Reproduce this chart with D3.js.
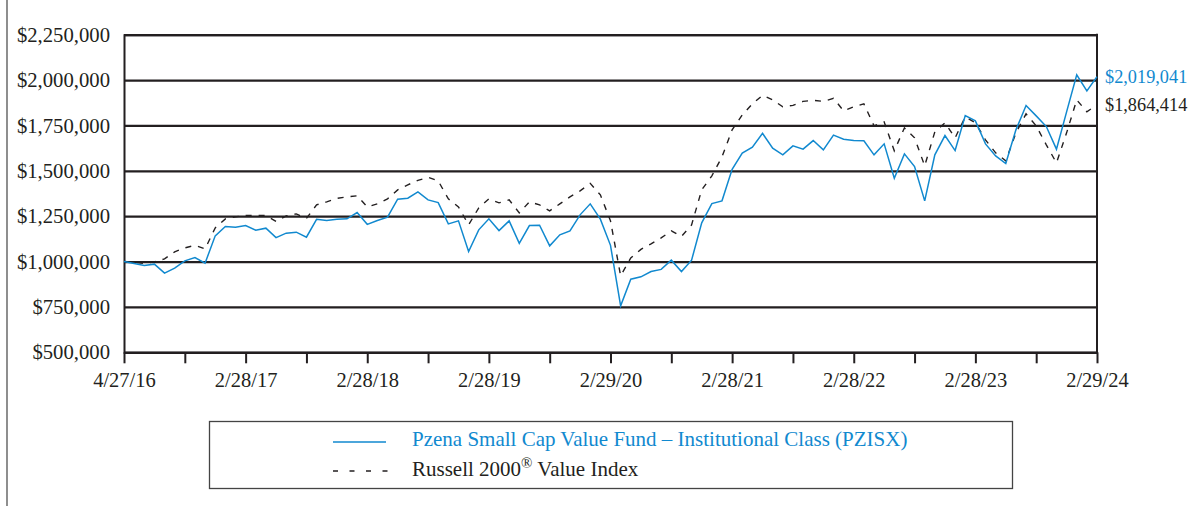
<!DOCTYPE html>
<html>
<head>
<meta charset="utf-8">
<script src="https://cdn.jsdelivr.net/npm/d3@7"></script>
<style>
  html, body { margin: 0; padding: 0; background: #fff; }
  svg { display: block; }
  text { font-family: "Liberation Serif", "DejaVu Serif", serif; }
</style>
</head>
<body>
<svg id="chart" width="1192" height="506"></svg>
<script>
// ---- Data ----
const tickLabels = ["4/27/16", "2/28/17", "2/28/18", "2/28/19", "2/29/20", "2/28/21", "2/28/22", "2/28/23", "2/29/24"];
const yTicks = [500000, 750000, 1000000, 1250000, 1500000, 1750000, 2000000, 2250000];
const fundName = "Pzena Small Cap Value Fund \u2013 Institutional Class (PZISX)";
const indexName = "Russell 2000";
const fundValues = [
  1000000, 989000, 978000, 985700, 936100, 963600, 1003900, 1022000, 991200, 1141600,
  1192900, 1189500, 1198400, 1173000, 1184000, 1132200, 1156500, 1162000, 1134400, 1232500,
  1225900, 1233600, 1235300, 1270000, 1205000, 1225900, 1244600, 1343800, 1349300, 1384000,
  1340000, 1325100, 1207700, 1224300, 1055100, 1174700, 1235300, 1170800, 1224300, 1100300,
  1198400, 1200600, 1086500, 1147100, 1169200, 1257300, 1317900, 1233600, 1089300, 755900,
  903000, 915700, 944900, 957000, 1007700, 944900, 1007700, 1213200, 1319600, 1334500,
  1508000, 1597300, 1630400, 1706400, 1624800, 1587900, 1637500, 1619300, 1666700, 1615500,
  1696500, 1674500, 1666700, 1665100, 1587900, 1648500, 1459500, 1593400, 1523500, 1334500,
  1587900, 1694300, 1611600, 1804500, 1775300, 1648500, 1582400, 1540000, 1725700, 1859600,
  1802800, 1743900, 1619300, 1824900, 2028800, 1940600, 2019041
];
const indexValues = [
  1000000, 995600, 990100, 998300, 1014900, 1053400, 1075500, 1089300, 1070000, 1185700,
  1235300, 1246300, 1254600, 1254600, 1254600, 1221500, 1251800, 1262800, 1238000, 1312400,
  1329000, 1348200, 1356500, 1362000, 1301400, 1317900, 1345500, 1395100, 1422600, 1447400,
  1463900, 1444700, 1345500, 1301400, 1202200, 1295900, 1345500, 1323400, 1340000, 1268300,
  1329000, 1312400, 1279400, 1317900, 1356500, 1389600, 1430900, 1367500, 1224300, 921200,
  1020400, 1067200, 1097500, 1130600, 1169200, 1138900, 1202200, 1395100, 1472200, 1576900,
  1725700, 1808300, 1869000, 1915800, 1891000, 1852400, 1860700, 1882700, 1888200, 1882700,
  1899300, 1830400, 1852400, 1869000, 1747800, 1769800, 1610000, 1736800, 1681600, 1527300,
  1714700, 1764300, 1681600, 1797300, 1764300, 1670600, 1599000, 1554900, 1709200, 1813800,
  1747800, 1643000, 1543800, 1709200, 1891000, 1824900, 1864414
];

// ---- Layout ----
const BLUE = "#1189cf";
const DARK = "#231f20";
const pL = 124, pR = 1097, pT = 34.7, pB = 352.3;

const svg = d3.select("#chart");

// outer left border
svg.append("line").attr("x1", 7).attr("x2", 7).attr("y1", 0).attr("y2", 506)
  .attr("stroke", "#444").attr("stroke-width", 1.2);

const x = d3.scaleLinear().domain([0, fundValues.length - 1]).range([pL, pR]);
const y = d3.scaleLinear().domain([500000, 2250000]).range([pB, pT]);

// Y axis with gridlines
const yAxis = d3.axisLeft(y).tickValues(yTicks).tickFormat(d3.format("$,"))
  .tickSize(-(pR - pL)).tickPadding(14);
const gy = svg.append("g").attr("transform", `translate(${pL},0)`).call(yAxis);
gy.select(".domain").attr("stroke", DARK).attr("stroke-width", 2);
gy.selectAll(".tick line").attr("stroke", DARK).attr("stroke-width", 2.2);
gy.selectAll(".tick text").attr("fill", DARK).style("font-size", "20.7px")
  .style("font-family", "'Liberation Serif', serif");

// right frame line
svg.append("line").attr("x1", pR).attr("x2", pR).attr("y1", pT - 1).attr("y2", pB + 1)
  .attr("stroke", DARK).attr("stroke-width", 2);

// X axis
const xAxis = d3.axisBottom(x).tickValues(d3.range(0, fundValues.length, 6))
  .tickFormat(i => (i % 12 === 0 ? tickLabels[i / 12] : ""))
  .tickSizeInner(11).tickSizeOuter(0).tickPadding(9);
const gx = svg.append("g").attr("transform", `translate(0,${pB})`).call(xAxis);
gx.select(".domain").attr("stroke", DARK).attr("stroke-width", 2.2);
gx.selectAll(".tick line").attr("stroke", DARK).attr("stroke-width", 2);
gx.selectAll(".tick text").attr("fill", DARK).style("font-size", "20.5px")
  .style("font-family", "'Liberation Serif', serif");

// Lines
const line = d3.line().x((d, i) => x(i)).y(d => y(d));
svg.append("path").datum(indexValues).attr("d", line)
  .attr("fill", "none").attr("stroke", DARK).attr("stroke-width", 1.4)
  .attr("stroke-dasharray", "6,7");
svg.append("path").datum(fundValues).attr("d", line)
  .attr("fill", "none").attr("stroke", BLUE).attr("stroke-width", 1.5)
  .attr("stroke-linejoin", "miter");

// End labels
const fmt = d3.format("$,");
svg.append("text").attr("x", 1105).attr("y", y(fundValues[fundValues.length - 1]))
  .attr("dy", "0.35em").attr("fill", BLUE).style("font-size", "18.3px")
  .text(fmt(fundValues[fundValues.length - 1]));
svg.append("text").attr("x", 1105).attr("y", y(indexValues[indexValues.length - 1]))
  .attr("dy", "0.35em").attr("fill", DARK).style("font-size", "18.3px")
  .text(fmt(indexValues[indexValues.length - 1]));

// Legend
const lg = svg.append("g");
lg.append("rect").attr("x", 209.5).attr("y", 421.5).attr("width", 803).attr("height", 67)
  .attr("fill", "none").attr("stroke", "#444").attr("stroke-width", 1.3);
lg.append("line").attr("x1", 333).attr("x2", 386).attr("y1", 442).attr("y2", 442)
  .attr("stroke", BLUE).attr("stroke-width", 1.5);
lg.append("line").attr("x1", 333).attr("x2", 388).attr("y1", 471).attr("y2", 471)
  .attr("stroke", DARK).attr("stroke-width", 1.3).attr("stroke-dasharray", "5,11.5");
lg.append("text").attr("x", 412).attr("y", 446).attr("fill", BLUE).style("font-size", "21px")
  .text(fundName);
const t2 = lg.append("text").attr("x", 412).attr("y", 476).attr("fill", DARK).style("font-size", "21px");
t2.append("tspan").text(indexName);
t2.append("tspan").attr("dy", -8).style("font-size", "15px").text("\u00AE");
t2.append("tspan").attr("dy", 8).text(" Value Index");
</script>
</body>
</html>
